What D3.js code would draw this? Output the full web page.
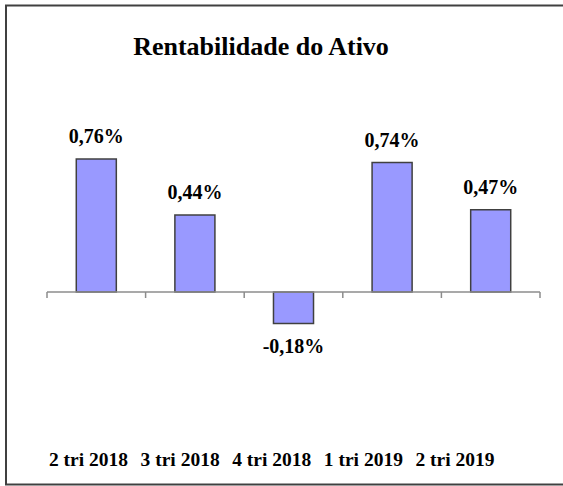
<!DOCTYPE html>
<html><head><meta charset="utf-8"><script src="https://d3js.org/d3.v7.min.js"></script>
<style>
  body { margin: 0; background: #fff; }
  #chart text { font-family: "Times New Roman", "Liberation Serif", Tinos, serif !important; font-weight: bold; }
</style>
</head>
<body>
<svg id="chart" width="563" height="486">
<text x="261" y="55" text-anchor="middle" font-size="26">Rentabilidade do Ativo</text>
</svg>
<script>
// data
var categories = ["2 tri 2018", "3 tri 2018", "4 tri 2018", "1 tri 2019", "2 tri 2019"];
var values = [0.76, 0.44, -0.18, 0.74, 0.47];
var valueLabels = ["0,76%", "0,44%", "-0,18%", "0,74%", "0,47%"];

var serif = "'Times New Roman', 'Liberation Serif', Tinos, serif";
var svg = d3.select("#chart");

// outer frame (right side runs off the picture)
svg.insert("rect", "text")
    .attr("x", 6).attr("y", 5.5)
    .attr("width", 620).attr("height", 479)
    .attr("fill", "none")
    .attr("stroke", "#404040")
    .attr("stroke-width", 2);

var x = d3.scaleBand()
    .domain(categories)
    .range([47, 540])
    .paddingInner(0.594)
    .paddingOuter(0.297);

var y = d3.scaleLinear()
    .domain([-1, 1])
    .range([467, 117]);

// category labels sit in a tighter row than the bars
var xLabel = d3.scalePoint()
    .domain(categories)
    .range([88.5, 455]);

svg.selectAll(".bar")
    .data(values)
    .enter().append("rect")
    .attr("class", "bar")
    .attr("x", function(d, i) { return x(categories[i]); })
    .attr("width", x.bandwidth())
    .attr("y", function(d) { return y(Math.max(0, d)); })
    .attr("height", function(d) { return Math.abs(y(d) - y(0)); })
    .attr("fill", "#9999ff")
    .attr("stroke", "#404040")
    .attr("stroke-width", 1.5);

// zero axis with ticks between the categories
svg.append("line")
    .attr("x1", x.range()[0]).attr("x2", x.range()[1])
    .attr("y1", y(0)).attr("y2", y(0))
    .attr("stroke", "#8c8c8c")
    .attr("stroke-width", 1.5);

var tickPos = categories.map(function(c) { return x(c) - x.step() * x.paddingInner() / 2; });
tickPos.push(x.range()[1]);

svg.selectAll(".tick")
    .data(tickPos)
    .enter().append("line")
    .attr("class", "tick")
    .attr("x1", function(d) { return d; })
    .attr("x2", function(d) { return d; })
    .attr("y1", y(0))
    .attr("y2", y(0) + 6)
    .attr("stroke", "#8c8c8c")
    .attr("stroke-width", 1.5);

svg.selectAll(".val")
    .data(values)
    .enter().append("text")
    .attr("class", "val")
    .attr("x", function(d, i) { return x(categories[i]) + x.bandwidth() / 2; })
    .attr("y", function(d) { return d >= 0 ? y(d) - 16 : y(d) + 29; })
    .attr("text-anchor", "middle")
    .attr("font-size", 20)
    .style("font-family", serif)
    .text(function(d, i) { return valueLabels[i]; });

svg.selectAll(".cat")
    .data(categories)
    .enter().append("text")
    .attr("class", "cat")
    .attr("x", function(d) { return xLabel(d); })
    .attr("y", 466)
    .attr("text-anchor", "middle")
    .attr("font-size", 19.5)
    .style("font-family", serif)
    .text(function(d) { return d; });
</script>
</body>
</html>
